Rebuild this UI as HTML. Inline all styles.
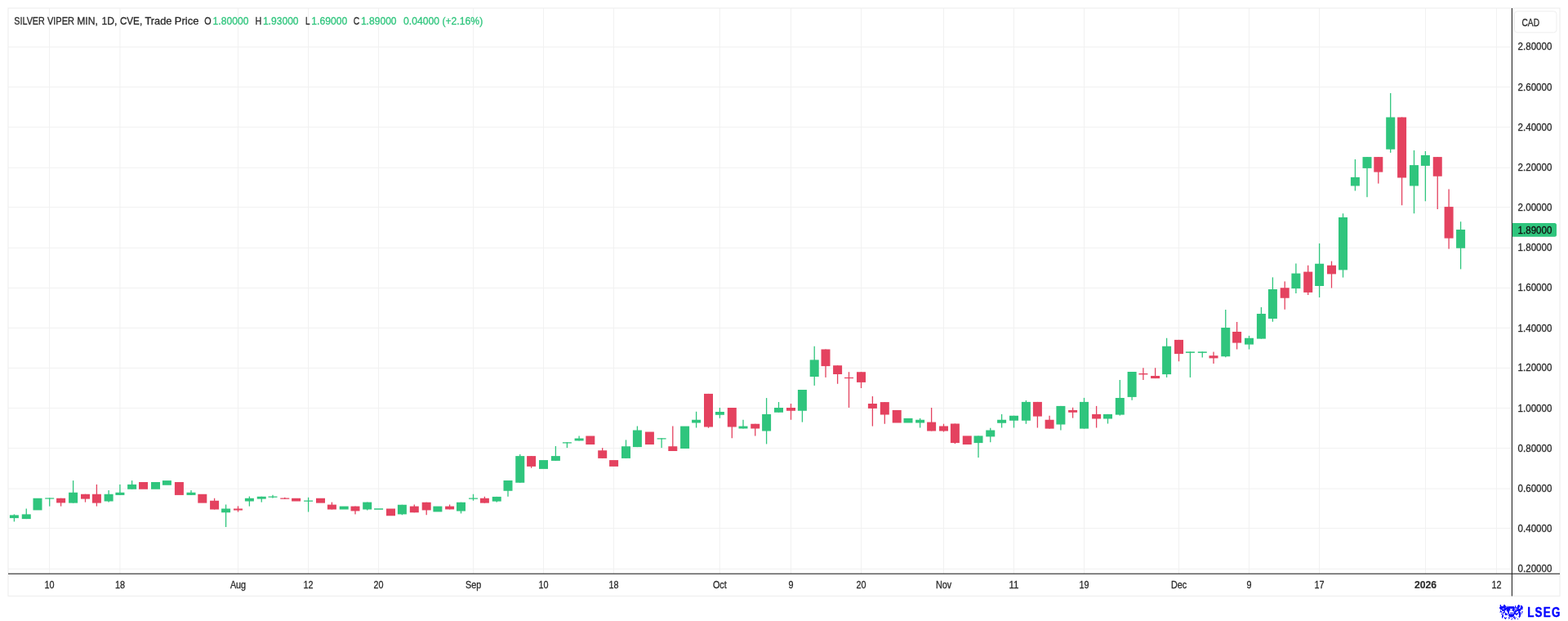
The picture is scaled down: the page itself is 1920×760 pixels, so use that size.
<!DOCTYPE html>
<html lang="en"><head><meta charset="utf-8"><title>SILVER VIPER MIN, 1D, CVE</title>
<style>html,body{margin:0;padding:0;background:#fff;width:1920px;height:760px;overflow:hidden}svg{display:block}text{font-family:"Liberation Sans",Arial,Helvetica,sans-serif;color:#2b2b2b;fill:currentColor;stroke:currentColor;stroke-width:0.3px}.t{font-size:13px}.a{font-size:12px}.g{color:#2fc57d}.up{fill:#2fc57d}.dn{fill:#e4425f}.gr{fill:#f1f1f1}.lg{font-size:16px;font-weight:bold;color:#0202ff}</style></head><body>
<svg width="1920" height="760" viewBox="0 0 1920 760">
<rect x="0" y="0" width="1920" height="760" fill="#ffffff"/>
<g class="gr">
<rect x="10" y="57.10" width="1841.5" height="1"/>
<rect x="10" y="105.90" width="1841.5" height="1"/>
<rect x="10" y="155.10" width="1841.5" height="1"/>
<rect x="10" y="204.70" width="1841.5" height="1"/>
<rect x="10" y="253.10" width="1841.5" height="1"/>
<rect x="10" y="302.90" width="1841.5" height="1"/>
<rect x="10" y="352.00" width="1841.5" height="1"/>
<rect x="10" y="400.80" width="1841.5" height="1"/>
<rect x="10" y="449.90" width="1841.5" height="1"/>
<rect x="10" y="498.90" width="1841.5" height="1"/>
<rect x="10" y="548.00" width="1841.5" height="1"/>
<rect x="10" y="597.60" width="1841.5" height="1"/>
<rect x="10" y="646.00" width="1841.5" height="1"/>
<rect x="10" y="695.80" width="1841.5" height="1"/>
<rect x="60.10" y="10" width="1" height="692"/>
<rect x="146.40" y="10" width="1" height="692"/>
<rect x="291.00" y="10" width="1" height="692"/>
<rect x="377.00" y="10" width="1" height="692"/>
<rect x="463.10" y="10" width="1" height="692"/>
<rect x="579.10" y="10" width="1" height="692"/>
<rect x="665.00" y="10" width="1" height="692"/>
<rect x="751.00" y="10" width="1" height="692"/>
<rect x="880.80" y="10" width="1" height="692"/>
<rect x="968.00" y="10" width="1" height="692"/>
<rect x="1054.10" y="10" width="1" height="692"/>
<rect x="1155.00" y="10" width="1" height="692"/>
<rect x="1241.00" y="10" width="1" height="692"/>
<rect x="1327.00" y="10" width="1" height="692"/>
<rect x="1443.00" y="10" width="1" height="692"/>
<rect x="1529.00" y="10" width="1" height="692"/>
<rect x="1615.00" y="10" width="1" height="692"/>
<rect x="1745.00" y="10" width="1" height="692"/>
<rect x="1832.00" y="10" width="1" height="692"/>
</g>
<rect x="10" y="10" width="1900" height="719.5" fill="none" stroke="#eeeeee" stroke-width="1.2"/>
<g>
<rect class="up" x="16.75" y="629.40" width="1.30" height="9.00"/>
<rect class="up" x="11.90" y="630.40" width="11.00" height="3.70"/>
<rect class="up" x="31.60" y="622.50" width="1.30" height="12.60"/>
<rect class="up" x="26.75" y="629.40" width="11.00" height="5.70"/>
<rect class="up" x="40.50" y="609.75" width="11.00" height="14.65"/>
<rect class="up" x="60.05" y="609.40" width="1.30" height="10.20"/>
<rect class="up" x="55.20" y="609.40" width="11.00" height="1.20"/>
<rect class="dn" x="73.95" y="609.75" width="1.30" height="9.85"/>
<rect class="dn" x="69.10" y="609.75" width="11.00" height="5.65"/>
<rect class="up" x="88.95" y="588.10" width="1.30" height="27.50"/>
<rect class="up" x="84.10" y="602.75" width="11.00" height="12.85"/>
<rect class="dn" x="103.85" y="604.75" width="1.30" height="9.85"/>
<rect class="dn" x="99.00" y="604.75" width="11.00" height="5.85"/>
<rect class="dn" x="117.75" y="592.90" width="1.30" height="26.70"/>
<rect class="dn" x="112.90" y="604.75" width="11.00" height="10.85"/>
<rect class="up" x="132.45" y="600.00" width="1.30" height="14.60"/>
<rect class="up" x="127.60" y="604.75" width="11.00" height="8.75"/>
<rect class="up" x="146.25" y="592.90" width="1.30" height="13.00"/>
<rect class="up" x="141.40" y="602.75" width="11.00" height="3.15"/>
<rect class="up" x="160.95" y="588.10" width="1.30" height="10.65"/>
<rect class="up" x="156.10" y="592.90" width="11.00" height="5.85"/>
<rect class="dn" x="170.00" y="590.00" width="11.00" height="8.75"/>
<rect class="up" x="185.00" y="590.00" width="11.00" height="8.75"/>
<rect class="up" x="198.90" y="588.10" width="11.00" height="5.65"/>
<rect class="dn" x="213.90" y="590.00" width="11.00" height="15.90"/>
<rect class="up" x="233.35" y="600.00" width="1.30" height="5.90"/>
<rect class="up" x="228.50" y="602.75" width="11.00" height="3.15"/>
<rect class="dn" x="242.30" y="604.75" width="11.00" height="10.85"/>
<rect class="dn" x="261.95" y="609.75" width="1.30" height="13.75"/>
<rect class="dn" x="257.10" y="612.75" width="11.00" height="10.75"/>
<rect class="up" x="275.95" y="617.50" width="1.30" height="27.50"/>
<rect class="up" x="271.10" y="622.50" width="11.00" height="4.75"/>
<rect class="dn" x="290.85" y="619.40" width="1.30" height="7.10"/>
<rect class="dn" x="286.00" y="622.50" width="11.00" height="2.00"/>
<rect class="up" x="304.75" y="607.50" width="1.30" height="12.10"/>
<rect class="up" x="299.90" y="609.75" width="11.00" height="3.75"/>
<rect class="up" x="319.60" y="607.75" width="1.30" height="6.85"/>
<rect class="up" x="314.75" y="607.75" width="11.00" height="2.85"/>
<rect class="up" x="333.35" y="605.75" width="1.30" height="3.85"/>
<rect class="up" x="328.50" y="607.50" width="11.00" height="1.25"/>
<rect class="dn" x="348.10" y="608.75" width="1.30" height="2.00"/>
<rect class="dn" x="343.25" y="609.50" width="11.00" height="1.25"/>
<rect class="dn" x="357.10" y="609.75" width="11.00" height="3.75"/>
<rect class="up" x="376.95" y="608.75" width="1.30" height="17.75"/>
<rect class="up" x="372.10" y="612.50" width="11.00" height="1.25"/>
<rect class="dn" x="387.00" y="609.75" width="11.00" height="5.85"/>
<rect class="dn" x="405.75" y="614.60" width="1.30" height="8.90"/>
<rect class="dn" x="400.90" y="617.60" width="11.00" height="5.90"/>
<rect class="up" x="415.70" y="619.60" width="11.00" height="3.90"/>
<rect class="dn" x="434.35" y="619.60" width="1.30" height="9.80"/>
<rect class="dn" x="429.50" y="619.60" width="11.00" height="5.80"/>
<rect class="up" x="449.05" y="614.60" width="1.30" height="9.90"/>
<rect class="up" x="444.20" y="614.60" width="11.00" height="8.90"/>
<rect class="up" x="458.10" y="622.25" width="11.00" height="1.50"/>
<rect class="dn" x="473.00" y="622.50" width="11.00" height="8.75"/>
<rect class="up" x="491.75" y="617.75" width="1.30" height="12.50"/>
<rect class="up" x="486.90" y="617.75" width="11.00" height="11.65"/>
<rect class="dn" x="506.65" y="617.50" width="1.30" height="9.75"/>
<rect class="dn" x="501.80" y="619.60" width="11.00" height="7.65"/>
<rect class="dn" x="521.55" y="614.75" width="1.30" height="15.50"/>
<rect class="dn" x="516.70" y="614.75" width="11.00" height="9.65"/>
<rect class="up" x="530.40" y="619.60" width="11.00" height="6.80"/>
<rect class="dn" x="549.95" y="617.50" width="1.30" height="5.90"/>
<rect class="dn" x="545.10" y="619.60" width="11.00" height="3.80"/>
<rect class="up" x="563.85" y="614.75" width="1.30" height="13.65"/>
<rect class="up" x="559.00" y="614.75" width="11.00" height="10.75"/>
<rect class="up" x="578.85" y="604.75" width="1.30" height="8.00"/>
<rect class="up" x="574.00" y="609.50" width="11.00" height="1.25"/>
<rect class="dn" x="592.75" y="607.75" width="1.30" height="7.85"/>
<rect class="dn" x="587.90" y="609.75" width="11.00" height="5.85"/>
<rect class="up" x="607.60" y="607.90" width="1.30" height="6.70"/>
<rect class="up" x="602.75" y="607.90" width="11.00" height="5.70"/>
<rect class="up" x="621.35" y="588.00" width="1.30" height="19.75"/>
<rect class="up" x="616.50" y="588.00" width="11.00" height="12.75"/>
<rect class="up" x="636.10" y="556.00" width="1.30" height="34.75"/>
<rect class="up" x="631.25" y="558.10" width="11.00" height="32.65"/>
<rect class="dn" x="649.95" y="558.10" width="1.30" height="14.65"/>
<rect class="dn" x="645.10" y="558.10" width="11.00" height="12.80"/>
<rect class="up" x="660.00" y="563.10" width="11.00" height="10.80"/>
<rect class="up" x="679.75" y="546.00" width="1.30" height="17.90"/>
<rect class="up" x="674.90" y="558.10" width="11.00" height="5.80"/>
<rect class="up" x="693.75" y="541.25" width="1.30" height="6.85"/>
<rect class="up" x="688.90" y="541.25" width="11.00" height="1.25"/>
<rect class="up" x="708.45" y="533.50" width="1.30" height="5.90"/>
<rect class="up" x="703.60" y="536.50" width="11.00" height="2.90"/>
<rect class="dn" x="717.30" y="533.50" width="11.00" height="10.50"/>
<rect class="dn" x="737.05" y="548.10" width="1.30" height="12.80"/>
<rect class="dn" x="732.20" y="551.25" width="11.00" height="9.65"/>
<rect class="dn" x="746.10" y="563.10" width="11.00" height="7.80"/>
<rect class="up" x="765.85" y="538.40" width="1.30" height="22.50"/>
<rect class="up" x="761.00" y="546.25" width="11.00" height="14.65"/>
<rect class="up" x="779.75" y="521.50" width="1.30" height="25.60"/>
<rect class="up" x="774.90" y="526.50" width="11.00" height="20.60"/>
<rect class="dn" x="789.90" y="528.50" width="11.00" height="15.50"/>
<rect class="up" x="809.45" y="536.25" width="1.30" height="11.85"/>
<rect class="up" x="804.60" y="536.25" width="11.00" height="1.25"/>
<rect class="dn" x="823.15" y="521.50" width="1.30" height="30.50"/>
<rect class="dn" x="818.30" y="546.25" width="11.00" height="5.75"/>
<rect class="up" x="833.10" y="521.60" width="11.00" height="27.40"/>
<rect class="up" x="851.95" y="503.75" width="1.30" height="19.75"/>
<rect class="up" x="847.10" y="513.75" width="11.00" height="3.75"/>
<rect class="dn" x="866.85" y="481.90" width="1.30" height="41.85"/>
<rect class="dn" x="862.00" y="481.90" width="11.00" height="40.60"/>
<rect class="up" x="880.75" y="499.00" width="1.30" height="12.75"/>
<rect class="up" x="875.90" y="504.00" width="11.00" height="3.75"/>
<rect class="dn" x="895.65" y="499.00" width="1.30" height="37.25"/>
<rect class="dn" x="890.80" y="499.00" width="11.00" height="23.50"/>
<rect class="up" x="909.35" y="513.75" width="1.30" height="10.75"/>
<rect class="up" x="904.50" y="521.60" width="11.00" height="2.90"/>
<rect class="dn" x="924.10" y="518.75" width="1.30" height="14.75"/>
<rect class="dn" x="919.25" y="518.75" width="11.00" height="5.75"/>
<rect class="up" x="937.95" y="487.10" width="1.30" height="56.30"/>
<rect class="up" x="933.10" y="506.90" width="11.00" height="20.60"/>
<rect class="up" x="952.85" y="492.00" width="1.30" height="12.75"/>
<rect class="up" x="948.00" y="499.00" width="11.00" height="5.75"/>
<rect class="dn" x="967.85" y="494.00" width="1.30" height="19.75"/>
<rect class="dn" x="963.00" y="499.00" width="11.00" height="3.75"/>
<rect class="up" x="981.75" y="477.00" width="1.30" height="39.60"/>
<rect class="up" x="976.90" y="477.00" width="11.00" height="25.75"/>
<rect class="up" x="996.55" y="423.75" width="1.30" height="48.15"/>
<rect class="up" x="991.70" y="440.40" width="11.00" height="20.60"/>
<rect class="dn" x="1010.35" y="427.50" width="1.30" height="34.40"/>
<rect class="dn" x="1005.50" y="427.50" width="11.00" height="20.60"/>
<rect class="dn" x="1024.95" y="447.25" width="1.30" height="22.50"/>
<rect class="dn" x="1020.10" y="447.25" width="11.00" height="10.75"/>
<rect class="dn" x="1038.85" y="455.25" width="1.30" height="43.65"/>
<rect class="dn" x="1034.00" y="461.90" width="11.00" height="1.20"/>
<rect class="dn" x="1053.85" y="455.25" width="1.30" height="19.75"/>
<rect class="dn" x="1049.00" y="455.25" width="11.00" height="12.65"/>
<rect class="dn" x="1067.75" y="485.00" width="1.30" height="36.60"/>
<rect class="dn" x="1062.90" y="494.00" width="11.00" height="5.90"/>
<rect class="dn" x="1082.65" y="492.10" width="1.30" height="26.65"/>
<rect class="dn" x="1077.80" y="492.10" width="11.00" height="15.40"/>
<rect class="dn" x="1092.70" y="501.90" width="11.00" height="15.60"/>
<rect class="up" x="1106.50" y="511.90" width="11.00" height="5.60"/>
<rect class="up" x="1125.95" y="511.90" width="1.30" height="11.60"/>
<rect class="up" x="1121.10" y="513.75" width="11.00" height="3.75"/>
<rect class="dn" x="1139.95" y="499.00" width="1.30" height="28.50"/>
<rect class="dn" x="1135.10" y="516.60" width="11.00" height="10.90"/>
<rect class="dn" x="1154.85" y="518.75" width="1.30" height="9.75"/>
<rect class="dn" x="1150.00" y="521.50" width="11.00" height="6.00"/>
<rect class="dn" x="1168.75" y="518.50" width="1.30" height="24.60"/>
<rect class="dn" x="1163.90" y="518.50" width="11.00" height="23.60"/>
<rect class="dn" x="1178.75" y="533.40" width="11.00" height="10.60"/>
<rect class="up" x="1197.35" y="533.40" width="1.30" height="26.60"/>
<rect class="up" x="1192.50" y="533.40" width="11.00" height="8.70"/>
<rect class="up" x="1212.10" y="523.75" width="1.30" height="17.50"/>
<rect class="up" x="1207.25" y="526.50" width="11.00" height="7.90"/>
<rect class="up" x="1225.95" y="506.90" width="1.30" height="16.60"/>
<rect class="up" x="1221.10" y="513.75" width="11.00" height="4.00"/>
<rect class="up" x="1240.85" y="508.75" width="1.30" height="14.75"/>
<rect class="up" x="1236.00" y="508.75" width="11.00" height="6.00"/>
<rect class="up" x="1255.75" y="490.00" width="1.30" height="28.75"/>
<rect class="up" x="1250.90" y="491.90" width="11.00" height="22.85"/>
<rect class="dn" x="1269.75" y="491.90" width="1.30" height="31.60"/>
<rect class="dn" x="1264.90" y="491.90" width="11.00" height="17.70"/>
<rect class="dn" x="1284.45" y="508.75" width="1.30" height="15.85"/>
<rect class="dn" x="1279.60" y="513.75" width="11.00" height="10.85"/>
<rect class="up" x="1298.25" y="496.90" width="1.30" height="29.60"/>
<rect class="up" x="1293.40" y="496.90" width="11.00" height="22.60"/>
<rect class="dn" x="1312.95" y="498.75" width="1.30" height="12.85"/>
<rect class="dn" x="1308.10" y="501.90" width="11.00" height="2.85"/>
<rect class="up" x="1326.85" y="486.90" width="1.30" height="37.70"/>
<rect class="up" x="1322.00" y="491.90" width="11.00" height="32.70"/>
<rect class="dn" x="1341.95" y="496.90" width="1.30" height="26.60"/>
<rect class="dn" x="1337.10" y="506.90" width="11.00" height="5.60"/>
<rect class="up" x="1355.85" y="506.90" width="1.30" height="11.60"/>
<rect class="up" x="1351.00" y="506.90" width="11.00" height="5.60"/>
<rect class="up" x="1370.65" y="465.00" width="1.30" height="43.60"/>
<rect class="up" x="1365.80" y="487.00" width="11.00" height="20.60"/>
<rect class="up" x="1385.45" y="455.00" width="1.30" height="34.75"/>
<rect class="up" x="1380.60" y="455.00" width="11.00" height="30.90"/>
<rect class="dn" x="1399.25" y="450.25" width="1.30" height="14.75"/>
<rect class="dn" x="1394.40" y="457.00" width="11.00" height="1.40"/>
<rect class="dn" x="1413.95" y="450.25" width="1.30" height="12.85"/>
<rect class="dn" x="1409.10" y="460.00" width="11.00" height="3.10"/>
<rect class="up" x="1427.95" y="413.75" width="1.30" height="48.15"/>
<rect class="up" x="1423.10" y="423.75" width="11.00" height="34.35"/>
<rect class="dn" x="1442.85" y="415.90" width="1.30" height="26.35"/>
<rect class="dn" x="1438.00" y="415.90" width="11.00" height="17.20"/>
<rect class="up" x="1456.75" y="430.40" width="1.30" height="31.50"/>
<rect class="up" x="1451.90" y="430.40" width="11.00" height="1.50"/>
<rect class="up" x="1471.60" y="430.40" width="1.30" height="7.10"/>
<rect class="up" x="1466.75" y="430.40" width="11.00" height="1.50"/>
<rect class="dn" x="1485.35" y="430.60" width="1.30" height="14.40"/>
<rect class="dn" x="1480.50" y="435.25" width="11.00" height="3.15"/>
<rect class="up" x="1500.10" y="379.00" width="1.30" height="58.25"/>
<rect class="up" x="1495.25" y="401.00" width="11.00" height="35.25"/>
<rect class="dn" x="1513.95" y="394.00" width="1.30" height="33.50"/>
<rect class="dn" x="1509.10" y="406.00" width="11.00" height="13.60"/>
<rect class="up" x="1528.85" y="410.90" width="1.30" height="16.60"/>
<rect class="up" x="1524.00" y="413.75" width="11.00" height="7.85"/>
<rect class="up" x="1543.75" y="376.00" width="1.30" height="38.60"/>
<rect class="up" x="1538.90" y="384.00" width="11.00" height="30.60"/>
<rect class="up" x="1557.75" y="339.40" width="1.30" height="54.35"/>
<rect class="up" x="1552.90" y="354.00" width="11.00" height="36.00"/>
<rect class="dn" x="1572.55" y="344.40" width="1.30" height="34.35"/>
<rect class="dn" x="1567.70" y="352.25" width="11.00" height="12.50"/>
<rect class="up" x="1586.25" y="322.50" width="1.30" height="36.50"/>
<rect class="up" x="1581.40" y="334.60" width="11.00" height="18.50"/>
<rect class="dn" x="1601.05" y="324.75" width="1.30" height="36.25"/>
<rect class="dn" x="1596.20" y="332.60" width="11.00" height="25.30"/>
<rect class="up" x="1614.95" y="297.90" width="1.30" height="66.10"/>
<rect class="up" x="1610.10" y="322.75" width="11.00" height="27.25"/>
<rect class="dn" x="1629.85" y="319.60" width="1.30" height="32.90"/>
<rect class="dn" x="1625.00" y="324.75" width="11.00" height="10.65"/>
<rect class="up" x="1643.85" y="261.25" width="1.30" height="78.35"/>
<rect class="up" x="1639.00" y="266.00" width="11.00" height="64.40"/>
<rect class="up" x="1658.75" y="195.00" width="1.30" height="38.50"/>
<rect class="up" x="1653.90" y="216.90" width="11.00" height="10.60"/>
<rect class="up" x="1673.35" y="192.10" width="1.30" height="49.15"/>
<rect class="up" x="1668.50" y="192.10" width="11.00" height="13.80"/>
<rect class="dn" x="1687.15" y="192.10" width="1.30" height="32.50"/>
<rect class="dn" x="1682.30" y="192.10" width="11.00" height="18.50"/>
<rect class="up" x="1702.05" y="114.00" width="1.30" height="72.90"/>
<rect class="up" x="1697.20" y="143.50" width="11.00" height="39.25"/>
<rect class="dn" x="1715.95" y="143.50" width="1.30" height="107.75"/>
<rect class="dn" x="1711.10" y="143.50" width="11.00" height="74.00"/>
<rect class="up" x="1730.85" y="184.00" width="1.30" height="77.25"/>
<rect class="up" x="1726.00" y="202.10" width="11.00" height="25.40"/>
<rect class="up" x="1744.75" y="185.00" width="1.30" height="61.25"/>
<rect class="up" x="1739.90" y="190.00" width="11.00" height="12.90"/>
<rect class="dn" x="1759.60" y="192.10" width="1.30" height="63.90"/>
<rect class="dn" x="1754.75" y="192.10" width="11.00" height="23.65"/>
<rect class="dn" x="1773.45" y="231.50" width="1.30" height="73.10"/>
<rect class="dn" x="1768.60" y="253.10" width="11.00" height="38.50"/>
<rect class="up" x="1787.95" y="271.25" width="1.30" height="58.15"/>
<rect class="up" x="1783.10" y="281.00" width="11.00" height="22.75"/>
</g>
<rect x="10" y="701.65" width="1900" height="1.1" fill="#262626"/>
<rect x="1850.85" y="10" width="1.1" height="719.5" fill="#262626"/>
<text class="t" y="30.00"><tspan x="17.30" textLength="37.50" lengthAdjust="spacingAndGlyphs">SILVER</tspan> <tspan x="57.90" textLength="33.10" lengthAdjust="spacingAndGlyphs">VIPER</tspan> <tspan x="94.15" textLength="25.65" lengthAdjust="spacingAndGlyphs">MIN,</tspan> <tspan x="124.40" textLength="18.90" lengthAdjust="spacingAndGlyphs">1D,</tspan> <tspan x="146.90" textLength="27.25" lengthAdjust="spacingAndGlyphs">CVE,</tspan> <tspan x="177.50" textLength="32.90" lengthAdjust="spacingAndGlyphs">Trade</tspan> <tspan x="213.80" textLength="29.70" lengthAdjust="spacingAndGlyphs">Price</tspan></text>
<text class="t" x="250.30" y="30.00" textLength="8.40" lengthAdjust="spacingAndGlyphs">O</text>
<text class="t g" x="260.60" y="30.00" textLength="43.80" lengthAdjust="spacingAndGlyphs">1.80000</text>
<text class="t" x="312.50" y="30.00" textLength="7.80" lengthAdjust="spacingAndGlyphs">H</text>
<text class="t g" x="321.90" y="30.00" textLength="43.70" lengthAdjust="spacingAndGlyphs">1.93000</text>
<text class="t" x="374.10" y="30.00" textLength="5.50" lengthAdjust="spacingAndGlyphs">L</text>
<text class="t g" x="381.30" y="30.00" textLength="44.10" lengthAdjust="spacingAndGlyphs">1.69000</text>
<text class="t" x="432.80" y="30.00" textLength="7.50" lengthAdjust="spacingAndGlyphs">C</text>
<text class="t g" x="441.90" y="30.00" textLength="43.70" lengthAdjust="spacingAndGlyphs">1.89000</text>
<text class="t g" x="494.00" y="30.00" textLength="97.20" lengthAdjust="spacingAndGlyphs">0.04000 (+2.16%)</text>
<text class="a" x="1858.60" y="61.30" textLength="41.80" lengthAdjust="spacingAndGlyphs">2.80000</text>
<text class="a" x="1858.60" y="110.70" textLength="41.80" lengthAdjust="spacingAndGlyphs">2.60000</text>
<text class="a" x="1858.60" y="159.90" textLength="41.80" lengthAdjust="spacingAndGlyphs">2.40000</text>
<text class="a" x="1858.60" y="208.90" textLength="41.80" lengthAdjust="spacingAndGlyphs">2.20000</text>
<text class="a" x="1858.60" y="257.90" textLength="41.80" lengthAdjust="spacingAndGlyphs">2.00000</text>
<text class="a" x="1858.60" y="307.10" textLength="41.80" lengthAdjust="spacingAndGlyphs">1.80000</text>
<text class="a" x="1858.60" y="356.20" textLength="41.80" lengthAdjust="spacingAndGlyphs">1.60000</text>
<text class="a" x="1858.60" y="405.60" textLength="41.80" lengthAdjust="spacingAndGlyphs">1.40000</text>
<text class="a" x="1858.60" y="454.10" textLength="41.80" lengthAdjust="spacingAndGlyphs">1.20000</text>
<text class="a" x="1858.60" y="503.70" textLength="41.80" lengthAdjust="spacingAndGlyphs">1.00000</text>
<text class="a" x="1858.60" y="552.80" textLength="41.80" lengthAdjust="spacingAndGlyphs">0.80000</text>
<text class="a" x="1858.60" y="601.70" textLength="41.80" lengthAdjust="spacingAndGlyphs">0.60000</text>
<text class="a" x="1858.60" y="650.80" textLength="41.80" lengthAdjust="spacingAndGlyphs">0.40000</text>
<text class="a" x="1858.60" y="699.50" textLength="41.80" lengthAdjust="spacingAndGlyphs">0.20000</text>
<path d="M1852 273.1 H1903.5 Q1906 273.1 1906 275.6 V287.3 Q1906 289.8 1903.5 289.8 H1852 Z" fill="#2fc57d"/>
<text class="a" x="1858.60" y="285.90" textLength="41.80" lengthAdjust="spacingAndGlyphs" style="color:#111">1.89000</text>
<rect x="1854.5" y="13.8" width="51.5" height="26" rx="3.5" ry="3.5" fill="#fff" stroke="#eeeeee" stroke-width="1"/>
<text class="a" x="1863.50" y="31.50" textLength="21.50" lengthAdjust="spacingAndGlyphs">CAD</text>
<text class="a" x="54.59" y="719.6" textLength="12.01" lengthAdjust="spacingAndGlyphs">10</text>
<text class="a" x="140.89" y="719.6" textLength="12.01" lengthAdjust="spacingAndGlyphs">18</text>
<text class="a" x="281.89" y="719.6" textLength="19.22" lengthAdjust="spacingAndGlyphs">Aug</text>
<text class="a" x="371.49" y="719.6" textLength="12.01" lengthAdjust="spacingAndGlyphs">12</text>
<text class="a" x="457.59" y="719.6" textLength="12.01" lengthAdjust="spacingAndGlyphs">20</text>
<text class="a" x="569.99" y="719.6" textLength="19.22" lengthAdjust="spacingAndGlyphs">Sep</text>
<text class="a" x="659.49" y="719.6" textLength="12.01" lengthAdjust="spacingAndGlyphs">10</text>
<text class="a" x="745.49" y="719.6" textLength="12.01" lengthAdjust="spacingAndGlyphs">18</text>
<text class="a" x="872.90" y="719.6" textLength="16.80" lengthAdjust="spacingAndGlyphs">Oct</text>
<text class="a" x="965.50" y="719.6" textLength="6.01" lengthAdjust="spacingAndGlyphs">9</text>
<text class="a" x="1048.59" y="719.6" textLength="12.01" lengthAdjust="spacingAndGlyphs">20</text>
<text class="a" x="1145.90" y="719.6" textLength="19.20" lengthAdjust="spacingAndGlyphs">Nov</text>
<text class="a" x="1235.49" y="719.6" textLength="12.01" lengthAdjust="spacingAndGlyphs">11</text>
<text class="a" x="1321.49" y="719.6" textLength="12.01" lengthAdjust="spacingAndGlyphs">19</text>
<text class="a" x="1433.90" y="719.6" textLength="19.20" lengthAdjust="spacingAndGlyphs">Dec</text>
<text class="a" x="1526.50" y="719.6" textLength="6.01" lengthAdjust="spacingAndGlyphs">9</text>
<text class="a" x="1609.49" y="719.6" textLength="12.01" lengthAdjust="spacingAndGlyphs">17</text>
<text class="a" x="1731.90" y="719.6" textLength="27.20" lengthAdjust="spacingAndGlyphs" style="font-weight:bold;stroke-width:0.15px">2026</text>
<text class="a" x="1826.49" y="719.6" textLength="12.01" lengthAdjust="spacingAndGlyphs">12</text>
<g fill="#0202ff">
<rect x="1836.74" y="740" width="1.26" height="1" opacity="0.95"/>
<rect x="1841.16" y="740" width="1.90" height="1" opacity="0.95"/>
<rect x="1858.85" y="740" width="1.58" height="1" opacity="0.95"/>
<rect x="1836.74" y="741" width="1.58" height="1" opacity="0.95"/>
<rect x="1840.84" y="741" width="2.84" height="1" opacity="0.95"/>
<rect x="1845.90" y="741" width="0.95" height="1" opacity="0.38"/>
<rect x="1855.06" y="741" width="0.95" height="1" opacity="0.85"/>
<rect x="1858.22" y="741" width="2.84" height="1" opacity="0.95"/>
<rect x="1861.69" y="741" width="2.21" height="1" opacity="0.95"/>
<rect x="1836.74" y="742" width="7.27" height="1" opacity="0.95"/>
<rect x="1844.00" y="742" width="3.16" height="1" opacity="0.57"/>
<rect x="1847.16" y="742" width="6.95" height="1" opacity="0.85"/>
<rect x="1855.06" y="742" width="1.26" height="1" opacity="0.95"/>
<rect x="1857.90" y="742" width="3.16" height="1" opacity="0.95"/>
<rect x="1862.01" y="742" width="2.53" height="1" opacity="0.95"/>
<rect x="1836.11" y="743" width="7.58" height="1" opacity="0.95"/>
<rect x="1843.69" y="743" width="0.95" height="1" opacity="0.66"/>
<rect x="1844.64" y="743" width="9.48" height="1" opacity="0.95"/>
<rect x="1854.11" y="743" width="2.84" height="1" opacity="0.85"/>
<rect x="1857.27" y="743" width="3.16" height="1" opacity="0.95"/>
<rect x="1861.69" y="743" width="3.16" height="1" opacity="0.95"/>
<rect x="1836.11" y="744" width="3.79" height="1" opacity="0.95"/>
<rect x="1839.90" y="744" width="1.58" height="1" opacity="0.57"/>
<rect x="1841.48" y="744" width="13.27" height="1" opacity="0.95"/>
<rect x="1855.37" y="744" width="1.58" height="1" opacity="0.57"/>
<rect x="1857.27" y="744" width="2.53" height="1" opacity="0.95"/>
<rect x="1861.38" y="744" width="3.16" height="1" opacity="0.95"/>
<rect x="1837.05" y="745" width="2.84" height="1" opacity="0.95"/>
<rect x="1839.90" y="745" width="1.58" height="1" opacity="0.57"/>
<rect x="1841.48" y="745" width="7.58" height="1" opacity="0.95"/>
<rect x="1852.22" y="745" width="2.53" height="1" opacity="0.95"/>
<rect x="1855.37" y="745" width="1.58" height="1" opacity="0.57"/>
<rect x="1857.27" y="745" width="7.27" height="1" opacity="0.95"/>
<rect x="1837.37" y="746" width="0.95" height="1" opacity="0.76"/>
<rect x="1838.95" y="746" width="5.05" height="1" opacity="0.95"/>
<rect x="1844.64" y="746" width="5.05" height="1" opacity="0.95"/>
<rect x="1850.95" y="746" width="3.79" height="1" opacity="0.95"/>
<rect x="1855.37" y="746" width="1.58" height="1" opacity="0.66"/>
<rect x="1857.27" y="746" width="5.05" height="1" opacity="0.95"/>
<rect x="1837.05" y="747" width="0.95" height="1" opacity="0.85"/>
<rect x="1839.27" y="747" width="3.47" height="1" opacity="0.95"/>
<rect x="1844.64" y="747" width="3.79" height="1" opacity="0.95"/>
<rect x="1852.22" y="747" width="1.90" height="1" opacity="0.95"/>
<rect x="1854.74" y="747" width="7.27" height="1" opacity="0.95"/>
<rect x="1836.74" y="748" width="2.21" height="1" opacity="0.95"/>
<rect x="1841.48" y="748" width="1.58" height="1" opacity="0.95"/>
<rect x="1845.58" y="748" width="2.53" height="1" opacity="0.95"/>
<rect x="1853.48" y="748" width="3.79" height="1" opacity="0.95"/>
<rect x="1859.17" y="748" width="1.90" height="1" opacity="0.95"/>
<rect x="1863.27" y="748" width="1.58" height="1" opacity="0.66"/>
<rect x="1836.11" y="749" width="0.95" height="1" opacity="0.38"/>
<rect x="1837.69" y="749" width="1.26" height="1" opacity="0.85"/>
<rect x="1839.90" y="749" width="1.58" height="1" opacity="0.95"/>
<rect x="1841.79" y="749" width="1.26" height="1" opacity="0.95"/>
<rect x="1846.21" y="749" width="1.90" height="1" opacity="0.95"/>
<rect x="1849.06" y="749" width="3.79" height="1" opacity="0.47"/>
<rect x="1853.48" y="749" width="2.84" height="1" opacity="0.95"/>
<rect x="1858.85" y="749" width="3.16" height="1" opacity="0.95"/>
<rect x="1862.96" y="749" width="1.58" height="1" opacity="0.66"/>
<rect x="1839.90" y="750" width="1.58" height="1" opacity="0.95"/>
<rect x="1842.74" y="750" width="1.90" height="1" opacity="0.95"/>
<rect x="1846.21" y="750" width="1.58" height="1" opacity="0.95"/>
<rect x="1849.06" y="750" width="3.79" height="1" opacity="0.57"/>
<rect x="1853.48" y="750" width="2.53" height="1" opacity="0.95"/>
<rect x="1856.64" y="750" width="2.21" height="1" opacity="0.85"/>
<rect x="1859.48" y="750" width="2.53" height="1" opacity="0.95"/>
<rect x="1862.64" y="750" width="1.26" height="1" opacity="0.66"/>
<rect x="1838.00" y="751" width="1.90" height="1" opacity="0.85"/>
<rect x="1842.74" y="751" width="3.16" height="1" opacity="0.95"/>
<rect x="1846.85" y="751" width="1.58" height="1" opacity="0.95"/>
<rect x="1848.43" y="751" width="4.42" height="1" opacity="0.66"/>
<rect x="1852.85" y="751" width="5.69" height="1" opacity="0.95"/>
<rect x="1859.80" y="751" width="2.21" height="1" opacity="0.95"/>
<rect x="1862.01" y="751" width="1.58" height="1" opacity="0.47"/>
<rect x="1839.58" y="752" width="1.58" height="1" opacity="0.95"/>
<rect x="1842.74" y="752" width="3.16" height="1" opacity="0.95"/>
<rect x="1847.16" y="752" width="6.95" height="1" opacity="0.95"/>
<rect x="1856.01" y="752" width="1.90" height="1" opacity="0.85"/>
<rect x="1859.80" y="752" width="2.21" height="1" opacity="0.95"/>
<rect x="1838.95" y="753" width="1.90" height="1" opacity="0.95"/>
<rect x="1847.16" y="753" width="6.95" height="1" opacity="0.95"/>
<rect x="1860.11" y="753" width="1.90" height="1" opacity="0.95"/>
<rect x="1838.95" y="754" width="2.21" height="1" opacity="0.95"/>
<rect x="1847.79" y="754" width="5.69" height="1" opacity="0.95"/>
<rect x="1854.11" y="754" width="0.95" height="1" opacity="0.66"/>
<rect x="1859.48" y="754" width="2.21" height="1" opacity="0.95"/>
<rect x="1838.95" y="755" width="1.58" height="1" opacity="0.85"/>
<rect x="1842.11" y="755" width="0.95" height="1" opacity="0.85"/>
<rect x="1844.32" y="755" width="0.95" height="1" opacity="0.57"/>
<rect x="1847.16" y="755" width="1.26" height="1" opacity="0.85"/>
<rect x="1849.69" y="755" width="1.26" height="1" opacity="0.76"/>
<rect x="1852.53" y="755" width="2.84" height="1" opacity="0.85"/>
<rect x="1856.01" y="755" width="0.95" height="1" opacity="0.47"/>
<rect x="1859.80" y="755" width="1.26" height="1" opacity="0.85"/>
<rect x="1838.95" y="756" width="0.95" height="1" opacity="0.57"/>
<rect x="1842.11" y="756" width="2.53" height="1" opacity="0.95"/>
<rect x="1847.16" y="756" width="1.90" height="1" opacity="0.76"/>
<rect x="1851.58" y="756" width="1.26" height="1" opacity="0.57"/>
<rect x="1853.80" y="756" width="1.90" height="1" opacity="0.85"/>
<rect x="1842.74" y="757" width="1.26" height="1" opacity="0.76"/>
<rect x="1847.16" y="757" width="0.95" height="1" opacity="0.57"/>
<rect x="1850.00" y="757" width="2.21" height="1" opacity="0.47"/>
<rect x="1854.11" y="757" width="1.90" height="1" opacity="0.66"/>
<rect x="1857.90" y="757" width="1.26" height="1" opacity="0.85"/>
<rect x="1850.32" y="758" width="1.58" height="1" opacity="0.38"/>
</g>
<text class="lg" transform="translate(1870.2 755) scale(0.81 1)" letter-spacing="1.5" style="stroke-width:0.45px;font-size:16.6px">LSEG</text>
</svg></body></html>
